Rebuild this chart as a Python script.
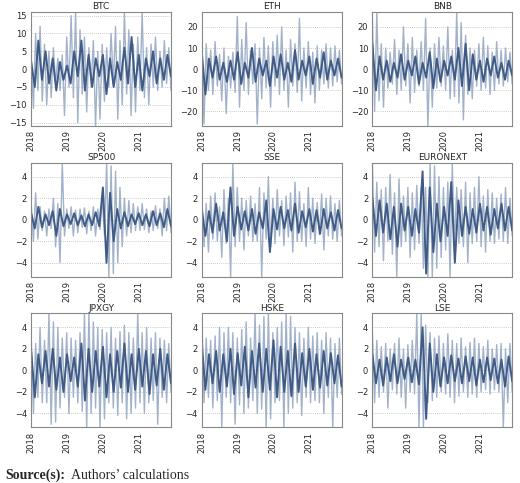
import numpy as np, pandas as pd, matplotlib
matplotlib.use("Agg")
import matplotlib.pyplot as plt, seaborn as sns

names = ["BTC","ETH","BNB","SP500","SSE","EURONEXT","JPXGY","HSKE","LSE"]
btc_l=[4,-11,10,-6,12,-9,7,-10,5,-8,6,-4,3,-6,4,-13,9,-5,15,-8,16,-15,11,-7,9,-12,6,-5,8,-16,5,-14,7,-9,6,-5,10,-4,12,-14,8,-10,16,-7,11,-13,7,-12,9,-6,16,-8,6,-10,7,-5,9,-6,5,-5,8,-4,6,-6]
btc_d=[2,-5,8,-3,5,-4,3,-6,2,-3,1,-4,5,-2,8,-6,4,-5,3,-2,4,-7,3,-5,2,-3,6,-4,9,-5,4,-6,3,-2,5,-4,3,-3,4,-2]
eth_l=[14,-26,12,-10,9,-12,13,-8,7,-15,10,-21,6,-9,8,-11,25,-18,14,-10,22,-12,9,-7,12,-26,10,-14,15,-9,11,-18,13,-8,16,-12,20,-10,9,-18,14,-8,12,-11,24,-15,10,-9,13,-12,8,-16,11,-10,9,-7,12,-9,10,-8,11,-6,9,-7]
eth_d=[8,-12,5,-4,6,-5,3,-6,4,-5,8,-7,3,-4,10,-6,5,-3,4,-8,6,-4,7,-5,3,-6,9,-5,4,-3,6,-7,5,-4,8,-5,4,-3,5,-4]
bnb_l=[24,-20,27,-15,12,-18,10,-9,8,-7,14,-12,9,-10,20,-8,12,-16,15,-11,9,-8,13,-10,24,-27,10,-18,12,-9,15,-8,11,-10,20,-14,9,-13,27,-16,22,-24,16,-12,10,-14,9,-8,12,-10,15,-9,11,-12,8,-10,13,-7,9,-8,10,-6,8,-7]
bnb_d=[12,-10,6,-5,4,-6,3,-4,7,-5,4,-3,6,-7,3,-4,8,-9,5,-6,4,-3,6,-5,10,-8,12,-10,7,-5,4,-6,5,-3,6,-4,3,-5,4,-3]
sp_l=[1.5,-2,2.5,-1.8,1.2,-1,0.8,-1.5,1,-0.8,2,-2.5,1.5,-4,5.3,-1.5,1,-0.8,1.2,-1.5,0.9,-1.2,1,-0.7,1.1,-1.3,0.8,-1,1.2,-1.5,1,-0.9,2,-1.4,5.3,-5.3,5,-5,4.5,-4,3,-2.5,2,-1.5,1.8,-1.2,1.5,-1,1.2,-1,1.5,-0.9,1,-1.2,0.8,-1,1.3,-0.8,1,-1.5,2,-1,2.2,-1.2]
sp_d=[0.6,-0.8,1.2,-0.7,0.5,-0.5,0.8,-1.5,1,-0.6,0.5,-0.4,0.6,-0.5,0.4,-0.6,0.5,-0.5,0.7,-0.6,3,-4,2.5,-2,1,-0.8,0.7,-0.6,0.5,-0.4,0.6,-0.5,0.5,-0.6,0.8,-0.5,0.6,-0.7,1,-0.6]
sse_l=[2,-2.5,1.5,-3,2.2,-1.8,2.5,-2,1.2,-3.5,2.8,-2.2,2,-5.3,5.3,-2.5,3,-2,2,-2.8,1.8,-1.5,2.2,-2,1.5,-2,3,-5.3,2.5,-1.8,4,-2.5,2,-2.2,2.8,-1.5,1.8,-2.4,2.2,-1.6,2.5,-3,3.5,-2,2.6,-2,1.5,-2.5,3,-1.8,2,-2.2,1.6,-1.4,2.4,-2.8,2,-1.5,2.2,-1.8,1.5,-2,1.8,-1.5]
sse_d=[1,-1.5,0.8,-1.2,1.5,-1,0.7,-2,3,-1.5,1.2,-0.9,0.8,-1,1,-1.3,0.7,-0.8,1.8,-3,1,-0.9,1.2,-0.8,0.9,-1,1.5,-1.2,0.8,-0.7,1,-1.1,0.9,-1.3,1,-0.8,0.7,-1,0.9,-0.8]
eur_l=[5.3,-3,3.5,-2.5,2.8,-3.8,3,-2,4.2,-3.2,2.5,-5.3,3.8,-2.5,2.2,-2,3,-3.5,2.5,-2.8,3.2,-2.2,3,-4.5,3,-5.3,5.3,-5.3,5,-4.5,4,-3.5,3,-2.8,3.5,-5.3,5.3,-2.5,3,-2.2,2.8,-2.5,3.5,-4,2.5,-2.2,3,-2,4,-2.5,2.2,-3,2.8,-2,2.5,-2.2,2,-1.8,2.4,-2,3,-2.2,2,-1.5]
eur_d=[2,-1.5,1.8,-1.2,1.5,-1.8,1.2,-2.5,1.5,-1,1.2,-1.5,1,-1.2,4.5,-5,3,-3,1.5,-2,1.2,-1.5,3.5,-4,1.8,-1.5,1.2,-1.3,1,-1.2,1.5,-1,1.2,-1.4,1,-0.8,1.5,-1,1.2,-1]
jp_l=[3,-4,2.5,-2.5,4,-3,2.8,-3,5.3,-5,4.5,-4.8,4,-3.5,3,-2.5,3.5,-4,3,-2.5,2.8,-3,3.5,-3.8,5.3,-5.3,5.3,-4,4.5,-3.5,4,-5.3,3.8,-4.5,3.5,-3,4,-3.5,3,-4.2,3.6,-3,4.2,-4.5,3.5,-4,3,-3.5,5.3,-3,3.5,-4,4,-3,3,-2.8,3.5,-5,3,-2.5,2.8,-3,2.5,-2]
jp_d=[1.8,-2.5,1.5,-1.2,1.8,-1.5,2,-1.8,1.2,-2,1.5,-1,1.2,-1.5,2.5,-2.8,2,-2,1.8,-1.5,2.2,-2.5,1.5,-2,1.8,-1.6,2.5,-2,1.5,-1.8,2,-1.5,1.8,-2.2,1.5,-1.4,2,-1.8,1.5,-1.2]
hs_l=[5.3,-3,3,-2.5,2.8,-3.5,3.2,-2.8,4,-5.3,3.5,-2.5,4,-3,3.5,-5,3,-3.2,3.8,-4,4.5,-3.5,3,-2.8,5.3,-4,4.2,-3.6,5,-5.3,5.3,-4.5,3.5,-3,4,-2.8,4.5,-5.3,5.3,-4,5,-3.5,4,-3,3.5,-4.2,3,-2.5,4,-3,3.2,-2.8,3.5,-3,2.8,-4,3.5,-2.5,3,-5.3,2.5,-2.5,3,-2.2]
hs_d=[2.5,-1.8,1.5,-1.2,1.8,-2,1.5,-1.5,2,-2.2,1.6,-1.4,2.2,-2.5,1.8,-1.6,2.5,-2,2,-1.8,2.8,-2.5,2.2,-2,1.8,-2.4,2.5,-2,1.6,-1.5,2,-1.8,1.5,-1.6,1.8,-1.4,1.6,-1.2,1.4,-1.5]
lse_l=[3.5,-3,2.8,-2.5,2.2,-2,2.5,-3.5,2,-1.8,2.5,-2.2,3,-2.5,2,-3.5,2.4,-2,2.8,-2.2,5.3,-5.3,5.3,-5.3,4.2,-3,3.5,-2.8,3,-2.5,3.2,-2,2.5,-2.2,3.4,-2.5,2.8,-3,2.5,-2.4,3,-2,2.2,-2.5,2.6,-2.2,3,-2.5,2.5,-2,2.2,-1.8,2.8,-2.2,2,-1.8,2.4,-2,2.5,-5.3,2,-3,2.5,-2]
lse_d=[1.5,-1.2,1,-1.4,1.2,-1,1.5,-1.2,1,-0.8,1.2,-1.1,1,-1.3,4,-4.5,2.5,-2,1.5,-1.5,1.2,-1.2,1.4,-1,1.1,-1.2,1.3,-1,1.2,-1.4,1,-1.1,1.2,-0.9,1.1,-1.2,1,-1.5,1.3,-1]
light=[btc_l,eth_l,bnb_l,sp_l,sse_l,eur_l,jp_l,hs_l,lse_l]
dark=[btc_d,eth_d,bnb_d,sp_d,sse_d,eur_d,jp_d,hs_d,lse_d]
ylims=[(-16,16),(-27,27),(-27,27)]+[(-5.3,5.3)]*6
yticks=[[-15,-10,-5,0,5,10,15],[-20,-10,0,10,20],[-20,-10,0,10,20]]+[[-4,-2,0,2,4]]*6
start,end=pd.Timestamp("2018-01-01"),pd.Timestamp("2021-11-30")

sns.set_style("white")
fig,axes=plt.subplots(3,3,figsize=(5.2,4.83),dpi=100)
fig.subplots_adjust(left=0.06,right=0.985,top=0.975,bottom=0.115,wspace=0.22,hspace=0.32)
for i,ax in enumerate(axes.flat):
    for yt in yticks[i]:
        ax.axhline(yt,color="#bbbbbb",lw=0.6,ls=(0,(1,1.5)),zorder=0)
    for vals,c,lw in [(light[i],"#a2b2ca",1.0),(dark[i],"#3f5b86",1.4)]:
        df=pd.DataFrame({"d":pd.date_range(start,end,periods=len(vals)),"v":vals})
        sns.lineplot(data=df,x="d",y="v",ax=ax,color=c,lw=lw)
    ax.set_ylim(*ylims[i]); ax.set_xlim(start,end)
    ax.set_yticks(yticks[i])
    ax.set_xticks([pd.Timestamp(f"{y}-01-01") for y in range(2018,2022)])
    ax.set_xticklabels([str(y) for y in range(2018,2022)],rotation=90)
    ax.tick_params(labelsize=6,length=2,pad=1)
    ax.set_xlabel(""); ax.set_ylabel("")
    ax.set_title(names[i],fontsize=6.5,pad=2)
    for s in ax.spines.values():
        s.set_color("#888888"); s.set_linewidth(0.8)
fig.text(0.01,0.008,"Source(s):",fontsize=10,weight="bold",family="Liberation Serif")
fig.text(0.137,0.008,"Authors’ calculations",fontsize=10,family="Liberation Serif")
fig.savefig("out.png")
